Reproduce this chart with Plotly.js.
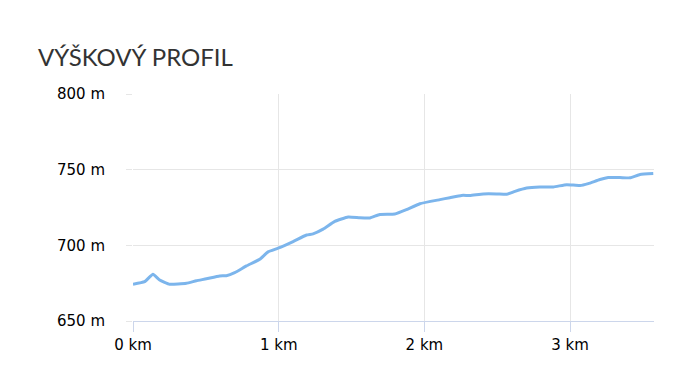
<!DOCTYPE html>
<html><head><meta charset="utf-8">
<script src="https://cdn.plot.ly/plotly-3.0.1.min.js"></script>
<style>html,body{margin:0;padding:0;background:#fff}#chart{width:697px;height:373px}</style>
</head><body><div id="chart"></div>
<script>
const distanceKm = [0, 0.08, 0.137, 0.183, 0.252, 0.366, 0.435, 0.504, 0.595, 0.641, 0.698, 0.779, 0.870, 0.927, 0.996, 1.099, 1.191, 1.236, 1.305, 1.385, 1.477, 1.557, 1.626, 1.694, 1.797, 1.877, 1.969, 2.107, 2.175, 2.255, 2.312, 2.404, 2.496, 2.565, 2.622, 2.702, 2.793, 2.885, 2.977, 3.068, 3.125, 3.205, 3.262, 3.342, 3.411, 3.480, 3.571];
const elevationM = [674.3, 676.0, 680.9, 677.1, 674.3, 674.9, 676.6, 677.9, 679.8, 679.9, 681.9, 686.4, 690.8, 695.7, 698.1, 702.5, 706.8, 707.6, 710.7, 715.8, 718.7, 718.2, 718.1, 720.4, 720.7, 723.6, 727.5, 730.2, 731.5, 733.0, 733.0, 734.0, 734.0, 733.7, 735.7, 737.9, 738.6, 738.6, 740.1, 739.5, 740.8, 743.5, 744.8, 744.8, 744.6, 746.8, 747.4];
const xTicks = [0, 1, 2, 3];
const yTicks = [650, 700, 750, 800];

const trace = {
  x: distanceKm, y: elevationM, type: 'scatter', mode: 'lines',
  line: {color: '#7cb5ec', width: 3, shape: 'spline', smoothing: 0.4},
  hoverinfo: 'none'
};
const layout = {
  width: 697, height: 373,
  margin: {l: 133, r: 43, t: 94, b: 52},
  paper_bgcolor: '#fff', plot_bgcolor: '#fff',
  showlegend: false,
  title: {text: 'VÝŠKOVÝ PROFIL', x: 38/697, xref: 'container', xanchor: 'left', y: 1 - 57.5/373, yref: 'container', yanchor: 'middle',
    font: {family: 'Lato', size: 24, color: '#333333'}},
  xaxis: {
    range: [0, 3.576], tickvals: xTicks, ticktext: xTicks.map(v => v + ' km'),
    showgrid: true, gridcolor: '#e6e6e6', gridwidth: 1, zeroline: false,
    showline: true, linecolor: '#ccd6eb', linewidth: 1,
    ticks: 'outside', ticklen: 10, tickcolor: '#ccd6eb',
    tickfont: {family: 'DejaVu Sans', size: 15, color: '#000'}
  },
  yaxis: {
    range: [650, 800], tickvals: yTicks, ticktext: yTicks.map(v => v + ' m'),
    showgrid: true, gridcolor: '#e6e6e6', gridwidth: 1, zeroline: false,
    showline: false, ticks: 'outside', ticklen: 6, tickcolor: '#e6e6e6',
    ticklabelstandoff: 18,
    tickfont: {family: 'DejaVu Sans', size: 15, color: '#000'}
  }
};
Plotly.newPlot('chart', [trace], layout, {staticPlot: true, displayModeBar: false});
</script></body></html>
